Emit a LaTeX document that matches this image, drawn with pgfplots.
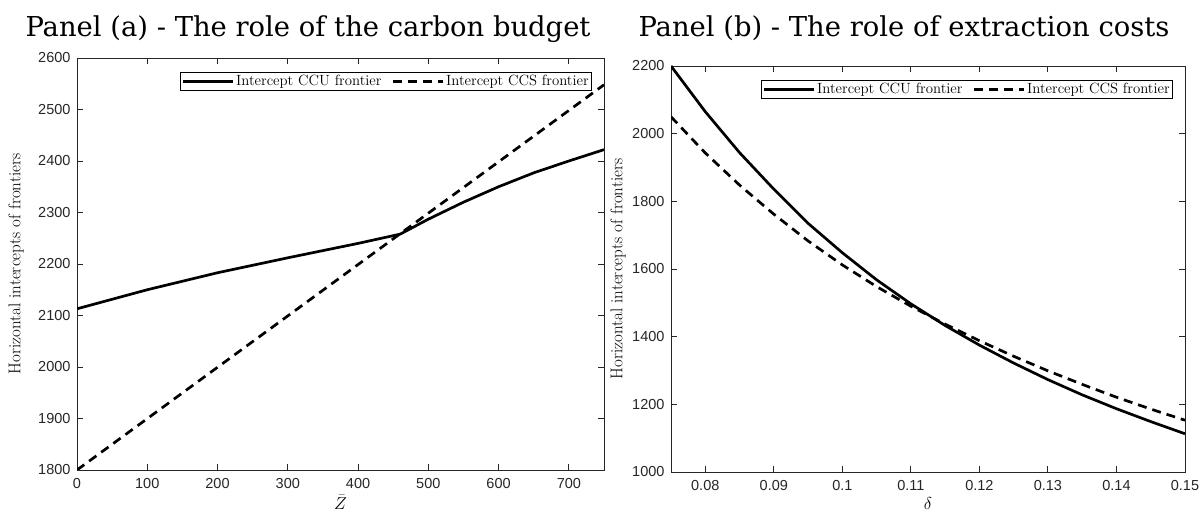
\documentclass[border=0pt]{standalone}
\usepackage{fontspec}
\usepackage{pgfplots}
\pgfplotsset{compat=1.18}
\newfontfamily\titlefont{DejaVu Serif}
\newfontfamily\tickfont{Liberation Sans}
\definecolor{axgray}{gray}{0.15}

\pgfplotsset{
  matlab/.style={
    scale only axis,
    axis line style={axgray, line width=0.9pt},
    every tick/.style={axgray, line width=0.9pt},
    major tick length=6pt,
    tick align=inside,
    /pgf/number format/assume math mode=true,
    /pgf/number format/1000 sep={},
    tick label style={font=\tickfont\fontsize{14.5}{16}\selectfont, text=axgray},
    xticklabel style={yshift=-5pt},
    yticklabel style={xshift=-3pt},
    every axis x label/.style={at={(rel axis cs:0.5,0)}, anchor=center, yshift=-32pt,
      font=\fontsize{17}{19}\selectfont},
    legend style={draw=black, line width=0.6pt, font=\fontsize{14.8}{16}\selectfont,
      at={(rel axis cs:1,1)}, anchor=north east, xshift=-12pt, yshift=-14pt,
      inner sep=1pt, legend columns=2,
      /tikz/every even column/.append style={column sep=8pt}},
    legend image code/.code={\draw[#1] (0pt,0pt) -- (50pt,0pt);},
    legend cell align=left,
  },
  ylab/.style={every axis y label/.style={at={(rel axis cs:0,0.5)}, xshift=#1,
      rotate=90, anchor=center, font=\fontsize{17}{19}\selectfont}},
  solidline/.style={black, line width=2.7pt, solid},
  dashline/.style={black, line width=2.7pt, dash pattern=on 9pt off 6pt},
}

\begin{document}
\begin{tikzpicture}
\useasboundingbox (0,0) rectangle (1203pt,513pt);

% Panel (a)
\begin{axis}[matlab,
  at={(77pt,43pt)}, anchor=south west,
  width=527pt, height=412pt,
  xmin=0, xmax=750, ymin=1800, ymax=2600,
  xtick={0,100,...,700}, ytick={1800,1900,...,2600},
  xlabel={$\bar{Z}$},
  ylabel={Horizontal intercepts of frontiers},
  ylab=-61pt,
]
\addplot[solidline] coordinates {
  (0,2113) (100,2150) (200,2183) (300,2212) (400,2240) (460,2258)
  (500,2287) (550,2320) (600,2350) (650,2377) (700,2400) (750,2422)
};
\addlegendentry{Intercept CCU frontier}
\addplot[dashline] coordinates {
  (0,1800) (750,2548)
};
\addlegendentry{Intercept CCS frontier}
\end{axis}

% Panel (b)
\begin{axis}[matlab,
  at={(671pt,41pt)}, anchor=south west,
  width=514pt, height=406pt,
  xmin=0.075, xmax=0.15, ymin=1000, ymax=2200,
  xtick={0.08,0.09,...,0.15}, ytick={1000,1200,...,2200},
  xticklabel style={/pgf/number format/fixed, /pgf/number format/precision=2},
  xlabel={$\delta$},
  ylabel={Horizontal intercepts of frontiers},
  ylab=-53pt,
]
\addplot[solidline] coordinates {
  (0.075,2200) (0.080,2065) (0.085,1944) (0.090,1836) (0.095,1735)
  (0.100,1648) (0.105,1568) (0.110,1497) (0.115,1433) (0.120,1375)
  (0.125,1322) (0.130,1273) (0.135,1228) (0.140,1187) (0.145,1149)
  (0.150,1113)
};
\addlegendentry{Intercept CCU frontier}
\addplot[dashline] coordinates {
  (0.075,2050) (0.080,1943) (0.085,1848) (0.090,1762) (0.095,1683)
  (0.100,1612) (0.105,1548) (0.110,1490) (0.115,1437) (0.120,1388)
  (0.125,1342) (0.130,1299) (0.135,1259) (0.140,1221) (0.145,1186)
  (0.150,1153)
};
\addlegendentry{Intercept CCS frontier}
\end{axis}

\node[anchor=base, font=\titlefont\fontsize{27.4}{30}\selectfont] at (308pt,476pt)
  {Panel (a) - The role of the carbon budget};
\node[anchor=base, font=\titlefont\fontsize{27.4}{30}\selectfont] at (904pt,476pt)
  {Panel (b) - The role of extraction costs};
\end{tikzpicture}
\end{document}
